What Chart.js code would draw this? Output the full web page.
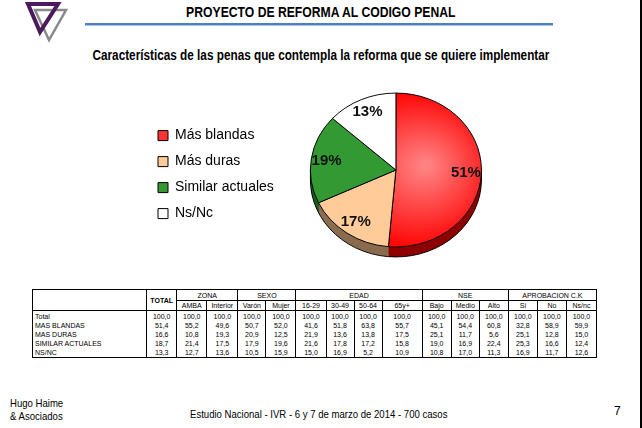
<!DOCTYPE html>
<html>
<head>
<meta charset="utf-8">
<script src="https://cdn.jsdelivr.net/npm/chart.js@4.4.0/dist/chart.umd.min.js"></script>
<style>
  body { margin: 0; width: 642px; height: 428px; background: #fff; position: relative; overflow: hidden; font-family: "Liberation Sans", Arial, sans-serif; }
  .abs { position: absolute; }
  .narrow { display: inline-block; transform-origin: center top; }
  #title { left: 0; width: 642px; top: 4px; text-align: center; font: bold 14px "Liberation Sans", Arial, sans-serif; color: #000; }
  #title .narrow { transform: scaleX(0.87); }
  #rule { left: 85px; width: 468px; top: 23px; height: 2px; background: #4f7fc0; border-bottom: 1px solid #a8c4e8; }
  #subtitle { left: 0; width: 642px; top: 47px; text-align: center; font: bold 14px "Liberation Sans", Arial, sans-serif; }
  #subtitle .narrow { transform: scaleX(0.84); }
  #chartBox { left: 146px; top: 84px; width: 362px; height: 176px; }
  #tbl { left: 32px; top: 289px; border-collapse: collapse; font: 7px "Liberation Sans", Arial, sans-serif; border: 1px solid #000; }
  #tbl th, #tbl td { border-left: 1px solid #000; border-right: 1px solid #000; padding: 0 2px; height: 9px; line-height: 9px; text-align: center; font-weight: normal; white-space: nowrap; }
  #tbl th { border-bottom: 1px solid #000; }
  #tbl tr.grp th { height: 10px; }
  #tbl td.lbl { text-align: left; }
  #tbl th.tot { font-weight: bold; }
  #tbl tr.first td { padding-top: 1px; }
  .foot { font: 11px "Liberation Sans", Arial, sans-serif; white-space: nowrap; }
  .foot .narrow { transform: scaleX(0.87); transform-origin: left top; }
  #edge { right: 0; top: 0; width: 2px; height: 428px; background: #000; }
</style>
</head>
<body>
<svg class="abs" style="left:24px;top:2px" width="46" height="42">
  <polygon points="11,8 42,8 25,38" fill="none" stroke="#8a8a8a" stroke-width="2.5"/>
  <polygon points="4,2 34,2 16,30" fill="none" stroke="#4b1a5c" stroke-width="4"/>
</svg>
<div id="title" class="abs"><span class="narrow">PROYECTO DE REFORMA AL CODIGO PENAL</span></div>
<div id="rule" class="abs"></div>
<div id="subtitle" class="abs"><span class="narrow">Características de las penas que contempla la reforma que se quiere implementar</span></div>
<div id="chartBox" class="abs"><canvas id="pie"></canvas></div>
<table id="tbl" class="abs"></table>
<div class="abs foot" style="left:10px;top:397px"><span class="narrow">Hugo Haime</span></div>
<div class="abs foot" style="left:10px;top:410px"><span class="narrow">&amp; Asociados</span></div>
<div class="abs foot" style="left:190px;top:408px"><span class="narrow">Estudio Nacional - IVR - 6 y 7 de marzo de 2014 - 700 casos</span></div>
<div class="abs foot" style="left:614px;top:404px;font-size:12px">7</div>
<div id="edge" class="abs"></div>
<script>
// pie data
const categories = ["Más blandas", "Más duras", "Similar actuales", "Ns/Nc"];
const shares = [51.4, 16.6, 18.7, 13.3];
const sliceLabels = ["51%", "17%", "19%", "13%"];
const sliceColors = ["#ff0000", "#ffcc99", "#339933", "#ffffff"];
const sideColors = ["#8e0000", "#8a6c4e", "#1e5e1e", "#a0a0a0"];

// table data
const rowLabels = ["Total", "MAS BLANDAS", "MAS DURAS", "SIMILAR ACTUALES", "NS/NC"];
const groupNames = ["ZONA", "SEXO", "EDAD", "NSE", "APROBACION C.K"];
const groupSpans = [2, 2, 4, 3, 3];
const colNames = ["AMBA", "Interior", "Varón", "Mujer", "16-29", "30-49", "50-64", "65y+", "Bajo", "Medio", "Alto", "Si", "No", "Ns/nc"];
const totalCol = ["100,0", "51,4", "16,6", "18,7", "13,3"];
const rowTotal = ["100,0", "100,0", "100,0", "100,0", "100,0", "100,0", "100,0", "100,0", "100,0", "100,0", "100,0", "100,0", "100,0", "100,0"];
const rowBlandas = ["55,2", "49,6", "50,7", "52,0", "41,6", "51,8", "63,8", "55,7", "45,1", "54,4", "60,8", "32,8", "58,9", "59,9"];
const rowDuras = ["10,8", "19,3", "20,9", "12,5", "21,9", "13,6", "13,8", "17,5", "25,1", "11,7", "5,6", "25,1", "12,8", "15,0"];
const rowSimilar = ["21,4", "17,5", "17,9", "19,6", "21,6", "17,8", "17,2", "15,8", "19,0", "16,9", "22,4", "25,3", "16,6", "12,4"];
const rowNsNc = ["12,7", "13,6", "10,5", "15,9", "15,0", "16,9", "5,2", "10,9", "10,8", "17,0", "11,3", "16,9", "11,7", "12,6"];

const colWidths = [114, 30, 30, 31, 28, 30, 30, 28, 28, 40, 29, 28, 29, 29, 29, 30];

// build the table
const tbl = document.getElementById("tbl");
let html = '<colgroup>' + colWidths.map(w => `<col style="width:${w}px">`).join("") + '</colgroup>';
html += '<tr class="grp"><th rowspan="2"></th><th rowspan="2" class="tot">TOTAL</th>' +
  groupNames.map((g, i) => `<th colspan="${groupSpans[i]}">${g}</th>`).join("") + '</tr>';
html += '<tr>' + colNames.map(c => `<th>${c}</th>`).join("") + '</tr>';
[rowTotal, rowBlandas, rowDuras, rowSimilar, rowNsNc].forEach((r, i) => {
  html += `<tr class="${i === 0 ? "first" : ""}"><td class="lbl">${rowLabels[i]}</td><td>${totalCol[i]}</td>` +
    r.map(v => `<td>${v}</td>`).join("") + '</tr>';
});
tbl.innerHTML = html;
tbl.style.tableLayout = "fixed";
tbl.style.width = "565px";

const squash = 0.9;
const depth = 10;

// fake 3d: squash the pie and draw a rim under it
const depthPlugin = {
  id: "depth",
  beforeDatasetsDraw(chart) {
    const ctx = chart.ctx;
    const arcs = chart.getDatasetMeta(0).data;
    const cx = arcs[0].x, cy = arcs[0].y;
    ctx.save();
    ctx.translate(cx, cy);
    ctx.scale(1, squash);
    ctx.translate(-cx, -cy);
    for (let d = depth; d > 0; d--) {
      arcs.forEach((a, i) => {
        const oy = d / squash;
        ctx.beginPath();
        ctx.moveTo(a.x, a.y + oy);
        ctx.arc(a.x, a.y + oy, a.outerRadius, a.startAngle, a.endAngle);
        ctx.closePath();
        ctx.fillStyle = sideColors[i];
        ctx.fill();
      });
    }
    const r = arcs[0].outerRadius;
    ctx.beginPath();
    ctx.arc(cx, cy + depth / squash, r, 0, Math.PI);
    ctx.moveTo(cx - r, cy);
    ctx.lineTo(cx - r, cy + depth / squash);
    ctx.moveTo(cx + r, cy);
    ctx.lineTo(cx + r, cy + depth / squash);
    ctx.strokeStyle = "#000";
    ctx.lineWidth = 1;
    ctx.stroke();
  },
  afterDatasetsDraw(chart) {
    const ctx = chart.ctx;
    ctx.restore();
    const arcs = chart.getDatasetMeta(0).data;
    ctx.font = "bold 15px 'Liberation Sans', Arial, sans-serif";
    ctx.fillStyle = "#111";
    ctx.textAlign = "center";
    ctx.textBaseline = "middle";
    arcs.forEach((a, i) => {
      const mid = (a.startAngle + a.endAngle) / 2;
      const rr = a.outerRadius * 0.82;
      ctx.fillText(sliceLabels[i], a.x + Math.cos(mid) * rr, a.y + Math.sin(mid) * rr * squash);
    });
  }
};

new Chart(document.getElementById("pie").getContext("2d"), {
  type: "pie",
  data: {
    labels: categories,
    datasets: [
      {
        data: shares,
        backgroundColor: (c) => {
          if (c.dataIndex !== 0 || !c.chart.chartArea) return sliceColors[c.dataIndex];
          const a = c.chart.chartArea;
          const mx = (a.left + a.right) / 2, my = (a.top + a.bottom) / 2;
          const g = c.chart.ctx.createRadialGradient(mx + 30, my - 5, 5, mx + 20, my, 90);
          g.addColorStop(0, "#ff8080");
          g.addColorStop(1, "#ff0000");
          return g;
        },
        borderColor: "#000",
        borderWidth: 1,
      },
    ],
  },
  options: {
    responsive: true,
    maintainAspectRatio: false,
    animation: false,
    layout: { padding: { bottom: 4 } },
    plugins: {
      legend: {
        position: "left",
        title: { display: true, text: " ", font: { size: 1 }, padding: 4 },
        labels: {
          boxWidth: 10,
          boxHeight: 10,
          padding: 12,
          color: "#000",
          font: { family: "'Liberation Sans', Arial, sans-serif", size: 14 },
          generateLabels: (chart) => categories.map((c, i) => ({
            text: c,
            fillStyle: i === 0 ? "#f33" : sliceColors[i],
            strokeStyle: "#000",
            fontColor: "#000",
            lineWidth: 1,
            index: i,
          })),
        },
      },
      tooltip: { enabled: false },
    },
  },
  plugins: [depthPlugin],
});
</script>
</body>
</html>
